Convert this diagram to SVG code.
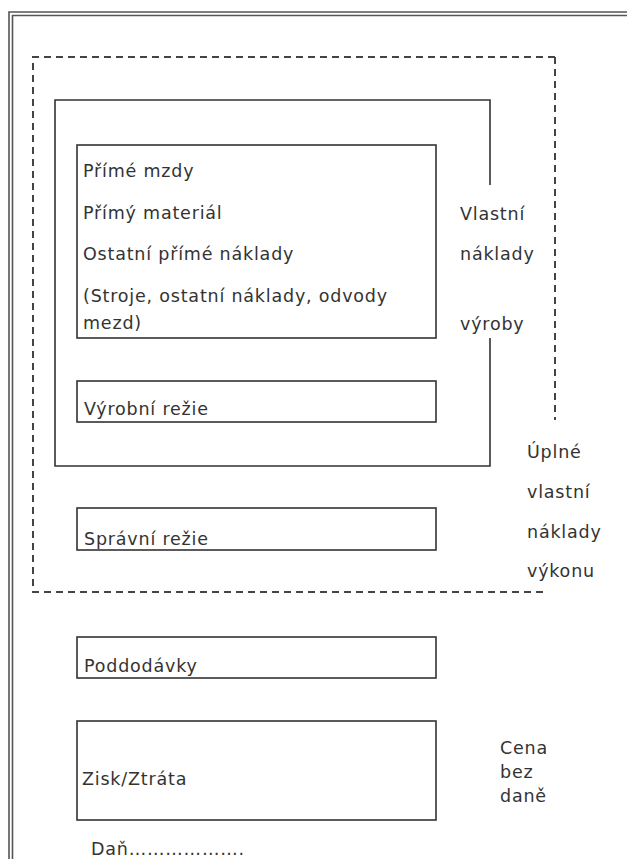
<svg xmlns="http://www.w3.org/2000/svg" width="627" height="859" viewBox="0 0 627 859">
<style>
.t{font-family:"DejaVu Sans","Liberation Sans",sans-serif;font-size:17.5px;letter-spacing:0.8px;fill:#333}
.box{fill:none;stroke:#333;stroke-width:1.6}
.dash{fill:none;stroke:#444;stroke-width:2;stroke-dasharray:7 5}
.frame{stroke:#555;stroke-width:1.6;fill:none}
</style>
<rect width="627" height="859" fill="#fff"/>
<g id="frame">
<path class="frame" d="M9 859 V12 H627"/>
<path class="frame" d="M12.5 859 V15.5 H627"/>
</g>
<g id="connectors">
<path class="dash" d="M555 57 H33 V592 H548"/>
<path class="dash" d="M555 57 V420"/>
<path class="box" d="M490 185 V100 H55 V466 H490 V338"/>
</g>
<g id="primary">
<rect class="box" x="77" y="145" width="359" height="193"/>
<text class="t" x="83" y="177">Přímé mzdy</text>
<text class="t" x="83" y="219">Přímý materiál</text>
<text class="t" x="83" y="260">Ostatní přímé náklady</text>
<text class="t" x="83" y="302">(Stroje, ostatní náklady, odvody</text>
<text class="t" x="83" y="329">mezd)</text>
</g>
<g id="vyrobni">
<rect class="box" x="77" y="381" width="359" height="41"/>
<text class="t" x="84" y="415">Výrobní režie</text>
</g>
<g id="spravni">
<rect class="box" x="77" y="508" width="359" height="42"/>
<text class="t" x="84" y="545">Správní režie</text>
</g>
<g id="poddodavky">
<rect class="box" x="77" y="637" width="359" height="41"/>
<text class="t" x="84" y="672">Poddodávky</text>
</g>
<g id="zisk">
<rect class="box" x="77" y="721" width="359" height="99"/>
<text class="t" x="82" y="785">Zisk/Ztráta</text>
</g>
<g id="dan">
<text class="t" x="91" y="855">Daň……………….</text>
</g>
<g id="vlastni">
<text class="t" x="460" y="220">Vlastní</text>
<text class="t" x="460" y="260">náklady</text>
<text class="t" x="460" y="330">výroby</text>
</g>
<g id="uplne">
<text class="t" x="527" y="458">Úplné</text>
<text class="t" x="527" y="498">vlastní</text>
<text class="t" x="527" y="538">náklady</text>
<text class="t" x="527" y="577">výkonu</text>
</g>
<g id="cena">
<text class="t" x="500" y="754">Cena</text>
<text class="t" x="500" y="778">bez</text>
<text class="t" x="500" y="802">daně</text>
</g>
</svg>
